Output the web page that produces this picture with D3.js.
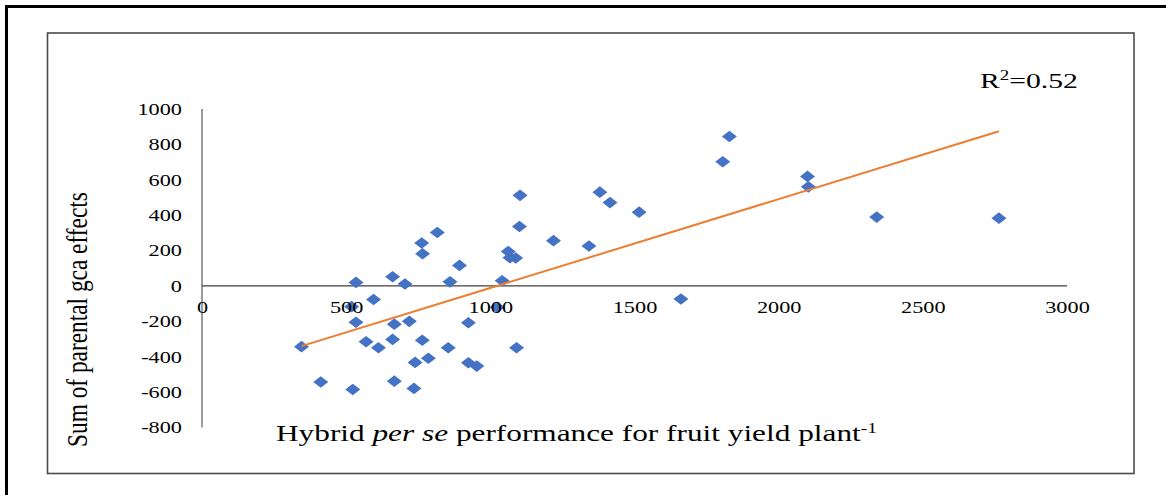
<!DOCTYPE html>
<html>
<head>
<meta charset="utf-8">
<script src="https://cdn.jsdelivr.net/npm/d3@7"></script>
<style>
  html, body { margin: 0; padding: 0; background: #fff; }
  svg { display: block; }
  text { font-family: "Liberation Serif", "Times New Roman", serif; fill: #000; }
</style>
</head>
<body>
<svg id="chart" width="1166" height="495"></svg>
<script>
// ---- data ----
const hybridYield = [345,412,523,519,534,534,569,595,612,661,704,667,661,667,719,735,739,764,785,762,765,816,860,893,854,924,924,953,1024,1041,1062,1068,1088,1091,1101,1103,1219,1342,1380,1415,1516,1661,1806,1829,2100,2103,2340,2764];
const gcaSum = [-343,-543,-585,-117,20,-205,-315,-77,-349,52,11,-216,-302,-538,-200,-579,-432,-307,-409,243,182,302,23,116,-349,-208,-434,-453,-120,29,195,160,158,-349,336,512,256,226,530,471,417,-74,702,845,619,560,389,383];
const xTickValues = [0,500,1000,1500,2000,2500,3000];
const yTickValues = [-800,-600,-400,-200,0,200,400,600,800,1000];
const r2Text = "0.52";
const yTitle = "Sum of parental gca effects";

// ---- layout ----
const SX = 1.35; // horizontal stretch of text in the reference
const svg = d3.select("#chart");
const x = d3.scaleLinear().domain([0, 3000]).range([202, 1067]);
const y = d3.scaleLinear().domain([-800, 1000]).range([427.5, 109]);

// outer frame
svg.append("rect").attr("x", 6.5).attr("y", 6.5).attr("width", 1200).attr("height", 600)
  .attr("fill", "#fff").attr("stroke", "#000").attr("stroke-width", 3);
// inner frame
svg.append("rect").attr("x", 47.5).attr("y", 33).attr("width", 1086.5).attr("height", 440.5)
  .attr("fill", "#fff").attr("stroke", "#4a4a4a").attr("stroke-width", 1.6);

// regression line (least squares from the data)
const n = hybridYield.length;
const mx = d3.mean(hybridYield), my = d3.mean(gcaSum);
let sxy = 0, sxx = 0;
for (let i = 0; i < n; i++) { sxy += (hybridYield[i]-mx)*(gcaSum[i]-my); sxx += (hybridYield[i]-mx)**2; }
const slope = sxy/sxx, intercept = my - slope*mx;
const xmin = d3.min(hybridYield), xmax = d3.max(hybridYield);

// axes lines
svg.append("line").attr("x1", x(0)).attr("x2", x(0)).attr("y1", y(1000)).attr("y2", y(-800))
  .attr("stroke", "#595959").attr("stroke-width", 1.2);
svg.append("line").attr("x1", x(0)).attr("x2", x(3000)).attr("y1", y(0)).attr("y2", y(0))
  .attr("stroke", "#404040").attr("stroke-width", 1.2);

// points
const diamond = "M-7.5,0L0,-5.8L7.5,0L0,5.8Z";
svg.append("g").selectAll("path").data(hybridYield.map((v,i)=>[v,gcaSum[i]])).join("path")
  .attr("d", diamond)
  .attr("transform", d => `translate(${x(d[0])},${y(d[1])})`)
  .attr("fill", "#4472C4");

// trend line
svg.append("line")
  .attr("x1", x(xmin)).attr("y1", y(slope*xmin+intercept))
  .attr("x2", x(xmax)).attr("y2", y(slope*xmax+intercept))
  .attr("stroke", "#ED7D31").attr("stroke-width", 2);

const fmt = d => String(d);
// y axis labels
const yAxis = d3.axisLeft(y).tickValues(yTickValues).tickSize(0).tickPadding(20/SX).tickFormat(fmt);
const gy = svg.append("g").attr("transform", `translate(${x(0)},0)`).call(yAxis);
gy.select(".domain").remove();
gy.selectAll("text").attr("font-family", "Liberation Serif").attr("font-size", 16.5)
  .attr("fill", "#222").attr("transform", `scale(${SX},1)`);

// x axis labels
const xAxis = d3.axisBottom(x).tickValues(xTickValues).tickSize(0).tickPadding(15.5).tickFormat(fmt);
const gx = svg.append("g").attr("transform", `translate(0,${y(0)})`).call(xAxis);
gx.select(".domain").remove();
gx.selectAll("text").attr("font-family", "Liberation Serif").attr("font-size", 16.5)
  .attr("fill", "#222").attr("transform", `scale(${SX},1)`);

// x axis title (fit to the reference width)
const xt = svg.append("text").attr("font-size", 22.5);
xt.append("tspan").text("Hybrid ");
xt.append("tspan").attr("font-style", "italic").text("per se");
xt.append("tspan").text(" performance for fruit yield plant");
xt.append("tspan").attr("font-size", 14).attr("dy", -8).text("-1");
const xtLen = xt.node().getComputedTextLength();
xt.attr("transform", `translate(276,441) scale(${601/xtLen},1)`);

// y axis title
const yt = svg.append("text").attr("font-size", 22.5).text(yTitle);
const ytLen = yt.node().getComputedTextLength();
yt.attr("transform", `translate(87,447) scale(${SX},1) rotate(-90) scale(${255/ytLen},1)`);

// R² label
const rt = svg.append("text").attr("transform", `translate(980,88) scale(${SX},1)`).attr("font-size", 22);
rt.append("tspan").text("R");
rt.append("tspan").attr("font-size", 14).attr("dy", -8).text("2");
rt.append("tspan").attr("dy", 8).text("=" + r2Text);
</script>
</body>
</html>
